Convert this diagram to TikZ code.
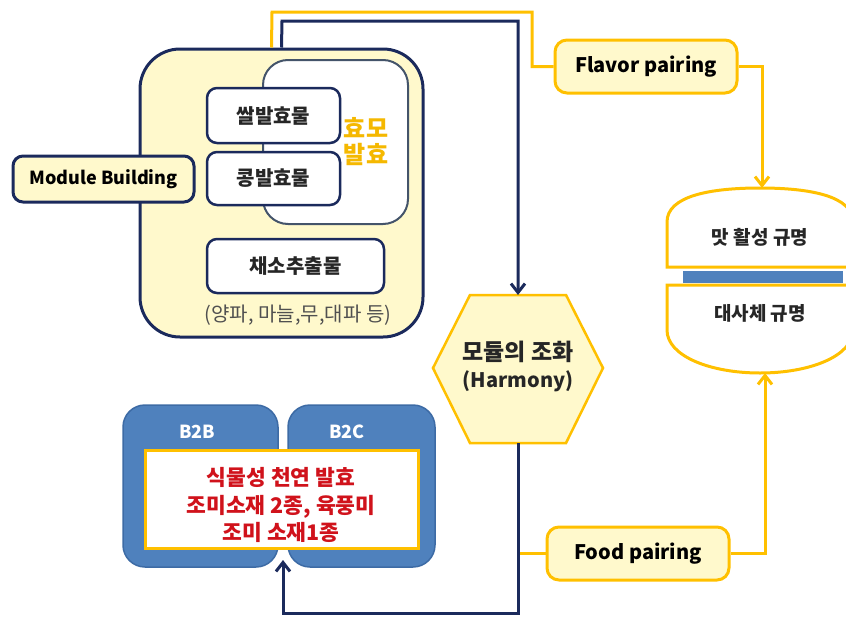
\documentclass[tikz,border=0pt]{standalone}
\usepackage{fontspec}
\setmainfont{Noto Sans CJK KR}
\usetikzlibrary{arrows.meta}
\definecolor{navy}{HTML}{1B2A5C}
\definecolor{gold}{HTML}{FFC000}
\definecolor{lyellow}{HTML}{FFF9CC}
\definecolor{slate}{HTML}{44546A}
\definecolor{bblue}{HTML}{4F81BD}
\definecolor{bblueline}{HTML}{3D6BA5}
\definecolor{rtext}{HTML}{D0121B}
\definecolor{otext}{HTML}{F5B800}
\definecolor{gtext}{HTML}{505050}
\tikzset{
  box/.style={draw, rectangle, rounded corners=#1, inner sep=0pt, align=center},
  box/.default=10pt,
  navyline/.style={draw=navy, line width=3pt},
  goldline/.style={draw=gold, line width=3pt},
  navyarrow/.style={navyline, -{Straight Barb[length=9pt,width=14pt,line width=3pt]}},
  goldarrow/.style={goldline, -{Straight Barb[length=9pt,width=14pt,line width=3pt]}},
  kbox/.style={box=10pt, fill=white, draw=navy, line width=2.5pt, font=\fontsize{20}{24}\selectfont\bfseries, text=black!85},
  pairbox/.style={box=12pt, fill=lyellow, draw=gold, line width=3pt, minimum width=182pt, minimum height=53pt, font=\fontsize{20}{24}\selectfont\bfseries},
}
\begin{document}
\begin{tikzpicture}[x=1pt,y=-1pt]
\useasboundingbox (0,0) rectangle (846,616);
% module area
\node[box=40pt, fill=lyellow, draw=navy, line width=3pt, minimum width=283pt, minimum height=288pt] (mod) at (281.5,193) {};
\node[box=25pt, fill=white, draw=slate, line width=2pt, minimum width=145pt, minimum height=164pt] (yeast) at (335.5,142) {};
\node[kbox, minimum width=133pt, minimum height=55pt] (rice) at (273.5,115.5) {쌀발효물};
\node[kbox, minimum width=133pt, minimum height=53pt] (bean) at (273.5,178.5) {콩발효물};
\node[kbox, minimum width=177pt, minimum height=54pt] (veg) at (295.5,266) {채소추출물};
\node[text=otext, font=\fontsize{24}{26}\selectfont\bfseries, align=center] (yt) at (366,142) {효모\\발효};
\node[text=gtext, font=\fontsize{20}{24}\selectfont] (vegnote) at (298,315) {(양파, 마늘,무,대파 등)};
\node[box=10pt, fill=lyellow, draw=navy, line width=3pt, minimum width=181pt, minimum height=46pt, font=\fontsize{18}{21}\selectfont\bfseries] (mb) at (103.5,179) {Module Building};
% pairing boxes
\node[pairbox] (flavor) at (646,66.5) {Flavor pairing};
\node[pairbox] (food) at (638,553.5) {Food pairing};
% hexagon
\coordinate (htop) at (518,295);
\coordinate (hbot) at (518,443);
\draw[fill=lyellow, draw=gold, line width=2.5pt, line join=miter] (470,295) -- (566,295) -- (603,368) -- (566,443) -- (470,443) -- (433,368) -- cycle;
\node[font=\fontsize{20}{27}\selectfont\bfseries, align=center, text=black!85] (hex) at (518,366) {{\fontsize{23}{27}\selectfont 모듈의 조화}\\(Harmony)};
% burger
\draw[fill=white, draw=gold, line width=3pt] (667,267) -- (667,222) .. controls (667,196) and (710,188) .. (760,188) .. controls (810,188) and (853,196) .. (853,222) -- (853,267) -- cycle;
\draw[fill=white, draw=gold, line width=3pt] (667,285) -- (667,330) .. controls (667,356) and (710,373) .. (760,373) .. controls (810,373) and (853,356) .. (853,330) -- (853,285) -- cycle;
\fill[bblue] (683,271) rectangle (843,283);
\node[font=\fontsize{19}{22}\selectfont\bfseries, text=black!85] (taste) at (760,237) {맛 활성 규명};
\node[font=\fontsize{19}{22}\selectfont\bfseries, text=black!85] (meta) at (760,313) {대사체 규명};
\coordinate (burgertop) at (762,188);
\coordinate (burgerbot) at (765,373);
% B2B / B2C
\node[box=22pt, fill=bblue, draw=bblueline, line width=1.5pt, minimum width=155pt, minimum height=162pt] (b2b) at (200.5,486) {};
\node[box=22pt, fill=bblue, draw=bblueline, line width=1.5pt, minimum width=147pt, minimum height=162pt] (b2c) at (361.5,486) {};
\node[text=white, font=\fontsize{18}{21}\selectfont\bfseries] at (197,432) {B2B};
\node[text=white, font=\fontsize{18}{21}\selectfont\bfseries] at (347,432) {B2C};
\node[rectangle, fill=white, draw=gold, line width=3pt, minimum width=273pt, minimum height=98pt, inner sep=0pt] (prod) at (281.5,499) {};
\node[text=rtext, font=\fontsize{21.5}{27.5}\selectfont\bfseries, align=center] (prodtxt) at (281,505) {식물성 천연 발효\\조미소재 2종, 육풍미\\조미 소재1종};
\coordinate (prodin) at (283,560);
% connectors
\draw[goldline] ([xshift=-10pt]mod.north) -- (272,12) -- (532,12) -- (532,66.5) -- (flavor.west);
\draw[navyarrow] (mod.north) -- (282,21) -- (518,21) -- (htop);
\draw[goldarrow] (flavor.east) -- (762,66.5) -- (burgertop);
\draw[goldline] (518,553.5) -- (food.west);
\draw[goldarrow] (food.east) -- (765,553.5) -- (burgerbot);
\draw[navyarrow] (hbot) -- (518,613) -- (283,613) -- (prodin);
\end{tikzpicture}
\end{document}
